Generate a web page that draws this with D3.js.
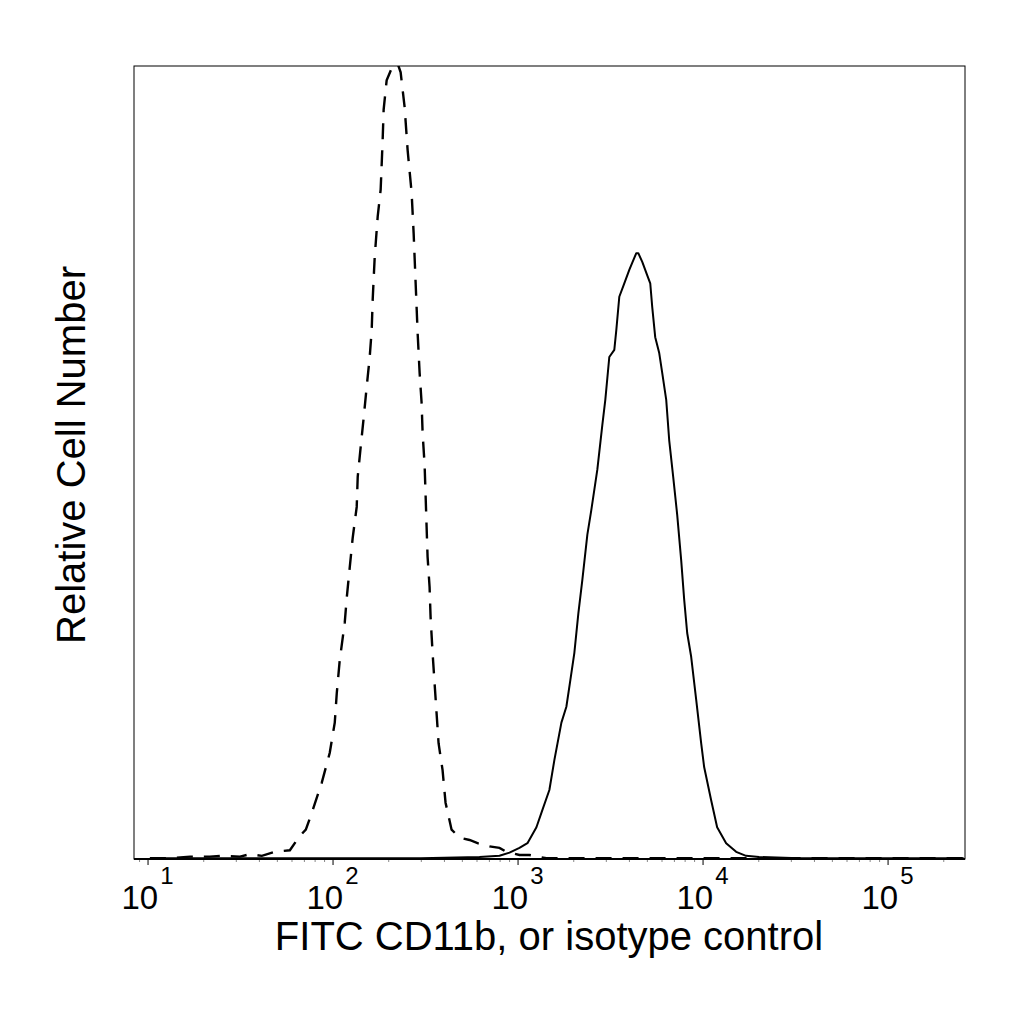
<!DOCTYPE html>
<html>
<head>
<meta charset="utf-8">
<script src="https://cdn.jsdelivr.net/npm/d3@7"></script>
<style>
  html, body { margin: 0; padding: 0; background: #fff; }
  text { font-family: "Liberation Sans", Arial, sans-serif; fill: #000; }
</style>
</head>
<body>
<svg id="chart" width="1024" height="1024"></svg>
<script>
// fluorescence intensity (x) and relative count in % of max (y)
var isotypeX = [10.3, 13.2, 17, 21.7, 24.6, 31.6, 35.7, 41.5, 48.8, 58.8, 66.5, 71.7, 77.2, 87.4, 96.6,
  102.8, 105.4, 109.4, 116.4, 119.3, 123.8, 128.5, 135.1, 136.8, 142, 147.4, 152.9, 158.8, 162.8, 164.8,
  169, 175.4, 182, 186.6, 188.9, 196.1, 208.7, 224.9, 233.4, 245.3, 254.6, 267.6, 274.4, 281.3, 288.4,
  295.6, 303, 306.8, 314.5, 318.4, 322.4, 326.4, 334.6, 338.8, 347.3, 356, 365, 374.2, 393.3, 408.2,
  439.9, 485.9, 550.2, 607.7, 705.3, 798.6, 871.2, 1024, 1159, 1432, 2767, 9587, 33210, 258000];
var isotypeY = [0.1, 0.1, 0.3, 0.3, 0.4, 0.3, 0.6, 0.4, 0.9, 1.1, 2.9, 3.7, 5.8, 9.6, 13.4,
  17.2, 20.9, 25.1, 29.8, 32.9, 36.7, 40.5, 44.4, 48.2, 52.0, 55.7, 59.5, 63.3, 66.7, 70.5,
  75.9, 81.0, 84.4, 90.7, 94.5, 98.2, 99.7, 100.3, 99.2, 94.8, 89.4, 84.0, 78.9, 72.6, 66.3,
  61.3, 57.5, 53.7, 49.7, 45.9, 41.9, 38.1, 34.3, 30.5, 26.0, 22.2, 18.4, 14.6, 11.2, 7.1,
  3.7, 2.7, 2.4, 2.0, 1.6, 1.4, 0.9, 0.5, 0.5, 0.1, 0.1, 0.1, 0.1, 0.1];

var cd11bX = [10.3, 100, 300, 622.8, 798.6, 904.4, 1024, 1131, 1265, 1363, 1486, 1582, 1726, 1836,
  1930, 2028, 2132, 2240, 2384, 2504, 2699, 2872, 2981, 3133, 3334, 3418, 3548, 3776, 4018, 4171,
  4383, 4494, 4722, 5024, 5215, 5346, 5548, 5832, 6053, 6362, 6603, 6939, 7294, 7664, 7956, 8259,
  8679, 9237, 9828, 10200, 11130, 11990, 13410, 15190, 17190, 20210, 33210, 258000];
var cd11bY = [0.1, 0.1, 0.1, 0.25, 0.4, 0.8, 1.4, 2.0, 4.0, 6.2, 8.7, 12.5, 17.2, 19.2,
  22.6, 26.0, 31.0, 35.2, 40.9, 44.0, 49.1, 54.7, 57.9, 63.3, 64.2, 66.7, 70.9, 72.6, 74.3, 75.2,
  76.4, 76.4, 75.3, 73.6, 72.6, 69.6, 65.8, 63.8, 61.3, 57.9, 52.8, 48.2, 43.4, 37.7, 32.7, 28.5,
  25.5, 20.1, 14.6, 11.6, 7.4, 4.0, 2.0, 0.9, 0.4, 0.25, 0.1, 0.1];

var decades = [1, 2, 3, 4, 5];
var xTitle = 'FITC CD11b, or isotype control';
var yTitle = 'Relative Cell Number';

(function() {
  var svg = d3.select('#chart');
  var plotLeft = 134, plotRight = 965, plotTop = 66, plotBottom = 859;

  var x = d3.scaleLog().domain([8.45, 262144]).range([plotLeft, plotRight]);
  var y = d3.scaleLinear().domain([0, 100]).range([plotBottom, plotTop]);

  svg.append('defs').append('clipPath')
    .attr('id', 'plot-clip')
    .append('rect')
    .attr('x', plotLeft)
    .attr('y', plotTop)
    .attr('width', plotRight - plotLeft)
    .attr('height', plotBottom - plotTop);

  // minor ticks
  var minor = [];
  for (var e = 0; e <= 5; e++) {
    for (var m = 2; m <= 9; m++) {
      var v = m * Math.pow(10, e);
      if (v > x.domain()[0] && v < x.domain()[1]) minor.push(v);
    }
  }

  svg.append('g')
    .attr('transform', 'translate(0,' + plotBottom + ')')
    .call(d3.axisBottom(x).tickValues(minor).tickSize(3).tickFormat(''))
    .call(function(g) {
      g.select('.domain').remove();
      g.selectAll('line').attr('stroke', '#888').attr('stroke-width', 1);
    });

  svg.append('g')
    .attr('transform', 'translate(0,' + plotBottom + ')')
    .call(d3.axisBottom(x).tickValues(decades.map(function(d) { return Math.pow(10, d); }))
      .tickSize(6).tickFormat(''))
    .call(function(g) {
      g.select('.domain').remove();
      g.selectAll('line').attr('stroke', '#000').attr('stroke-width', 1);
    });

  var labels = svg.append('g').selectAll('text.tick-label')
    .data(decades)
    .enter()
    .append('text')
    .classed('tick-label', true)
    .attr('x', function(d) { return x(Math.pow(10, d)); })
    .attr('y', 909)
    .attr('text-anchor', 'middle');
  labels.append('tspan')
    .attr('font-size', 33)
    .text('10');
  labels.append('tspan')
    .attr('font-size', 24)
    .attr('dx', 2)
    .attr('dy', -25)
    .text(function(d) { return d; });

  // curves
  var line = d3.line()
    .x(function(d) { return x(d[0]); })
    .y(function(d) { return y(d[1]); });

  var curves = svg.append('g').attr('clip-path', 'url(#plot-clip)');

  curves.append('path')
    .datum(d3.zip(cd11bX, cd11bY))
    .attr('d', line)
    .attr('fill', 'none')
    .attr('stroke', '#000')
    .attr('stroke-width', 2)
    .attr('stroke-linejoin', 'round');

  curves.append('path')
    .datum(d3.zip(isotypeX, isotypeY))
    .attr('d', line)
    .attr('fill', 'none')
    .attr('stroke', '#000')
    .attr('stroke-width', 2.4)
    .attr('stroke-dasharray', '16,11');

  // frame
  svg.append('rect')
    .attr('x', plotLeft)
    .attr('y', plotTop)
    .attr('width', plotRight - plotLeft)
    .attr('height', plotBottom - plotTop)
    .attr('fill', 'none')
    .attr('stroke', '#000')
    .attr('stroke-width', 1);
  svg.append('line')
    .attr('x1', plotLeft).attr('x2', plotRight)
    .attr('y1', plotBottom).attr('y2', plotBottom)
    .attr('stroke', '#000')
    .attr('stroke-width', 2);

  svg.append('text')
    .attr('x', 549)
    .attr('y', 950)
    .attr('text-anchor', 'middle')
    .attr('font-size', 40)
    .text(xTitle);

  svg.append('text')
    .attr('transform', 'translate(85,455) rotate(-90)')
    .attr('text-anchor', 'middle')
    .attr('font-size', 40)
    .text(yTitle);
})();
</script>
</body>
</html>
